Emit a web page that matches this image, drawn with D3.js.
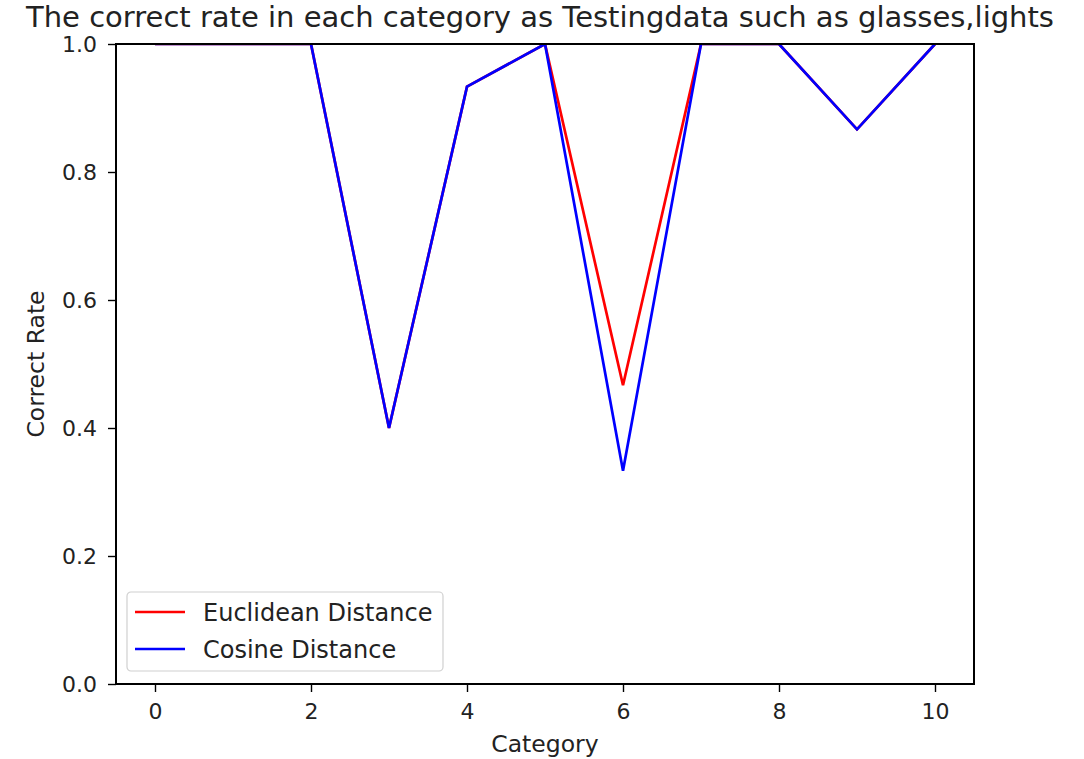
<!DOCTYPE html>
<html>
<head>
<meta charset="utf-8">
<script src="https://cdn.jsdelivr.net/npm/d3@7"></script>
<style>
  html, body { margin: 0; padding: 0; background: #fff; }
  svg { display: block; font-family: "DejaVu Sans", sans-serif; }
</style>
</head>
<body>
<svg id="chart" width="1084" height="759"></svg>
<script>
// Category indices and correct rate per category for the two distance measures
const categories = [0, 1, 2, 3, 4, 5, 6, 7, 8, 9, 10];
const euclidean = [1.0, 1.0, 1.0, 0.4, 0.9333, 1.0, 0.4667, 1.0, 1.0, 0.8667, 1.0];
const cosine    = [1.0, 1.0, 1.0, 0.4, 0.9333, 1.0, 0.3333, 1.0, 1.0, 0.8667, 1.0];
const xTicks = [0, 2, 4, 6, 8, 10];
const yTicks = [0.0, 0.2, 0.4, 0.6, 0.8, 1.0];

const svg = d3.select("#chart");
const plotL = 116, plotR = 974, plotT = 44, plotB = 684;
const FONT = "'DejaVu Sans', sans-serif";

const x = d3.scaleLinear().domain([-0.5, 10.5]).range([plotL, plotR]);
const y = d3.scaleLinear().domain([0, 1]).range([plotB, plotT]);

svg.append("defs").append("clipPath").attr("id", "plot-clip")
  .append("rect").attr("x", plotL).attr("y", plotT)
  .attr("width", plotR - plotL).attr("height", plotB - plotT);

// Series lines
const line = d3.line().x((d, i) => x(categories[i])).y(d => y(d));
const series = [
  { name: "Euclidean Distance", values: euclidean, color: "#ff0000" },
  { name: "Cosine Distance", values: cosine, color: "#0000ff" }
];
const plot = svg.append("g").attr("clip-path", "url(#plot-clip)");
series.forEach(s => {
  plot.append("path").datum(s.values)
    .attr("d", line)
    .attr("fill", "none")
    .attr("stroke", s.color)
    .attr("stroke-width", 2.7)
    .attr("stroke-linejoin", "miter");
});

// Axes
const xAxis = d3.axisBottom(x).tickValues(xTicks).tickFormat(d3.format("d"))
  .tickSize(8).tickSizeOuter(0).tickPadding(11);
const yAxis = d3.axisLeft(y).tickValues(yTicks).tickFormat(d3.format(".1f"))
  .tickSize(8).tickSizeOuter(0).tickPadding(11);

const gx = svg.append("g").attr("transform", `translate(0,${plotB})`).call(xAxis);
const gy = svg.append("g").attr("transform", `translate(${plotL},0)`).call(yAxis);
[gx, gy].forEach(g => {
  g.select(".domain").remove();
  g.selectAll(".tick line").attr("stroke", "#000").attr("stroke-width", 1.4);
  g.selectAll(".tick text").attr("fill", "#222").style("font-size", "22px")
    .style("font-family", FONT);
});

// Frame
svg.append("rect").attr("x", plotL).attr("y", plotT)
  .attr("width", plotR - plotL).attr("height", plotB - plotT)
  .attr("fill", "none").attr("stroke", "#000").attr("stroke-width", 2);

// Title and axis labels
svg.append("text").attr("x", 540).attr("y", 27)
  .attr("text-anchor", "middle").attr("fill", "#222").style("font-size", "29px")
  .style("font-family", FONT)
  .text("The correct rate in each category as Testingdata such as glasses,lights");
svg.append("text").attr("x", (plotL + plotR) / 2).attr("y", 752)
  .attr("text-anchor", "middle").attr("fill", "#222").style("font-size", "23.5px")
  .style("font-family", FONT)
  .text("Category");
svg.append("text").attr("transform", `translate(44,${(plotT + plotB) / 2}) rotate(-90)`)
  .attr("text-anchor", "middle").attr("fill", "#222").style("font-size", "23.5px")
  .style("font-family", FONT)
  .text("Correct Rate");

// Legend
const legend = svg.append("g").attr("transform", "translate(127,592)");
legend.append("rect").attr("width", 316).attr("height", 79).attr("rx", 4)
  .attr("fill", "#fff").attr("fill-opacity", 0.8)
  .attr("stroke", "#d0d0d0").attr("stroke-width", 1.2);
series.forEach((s, i) => {
  const yy = 20 + i * 37;
  legend.append("line").attr("x1", 8).attr("x2", 58).attr("y1", yy).attr("y2", yy)
    .attr("stroke", s.color).attr("stroke-width", 2.7);
  legend.append("text").attr("x", 76).attr("y", yy + 9)
    .attr("fill", "#222").style("font-size", "24px").style("font-family", FONT)
    .text(s.name);
});
</script>
</body>
</html>
